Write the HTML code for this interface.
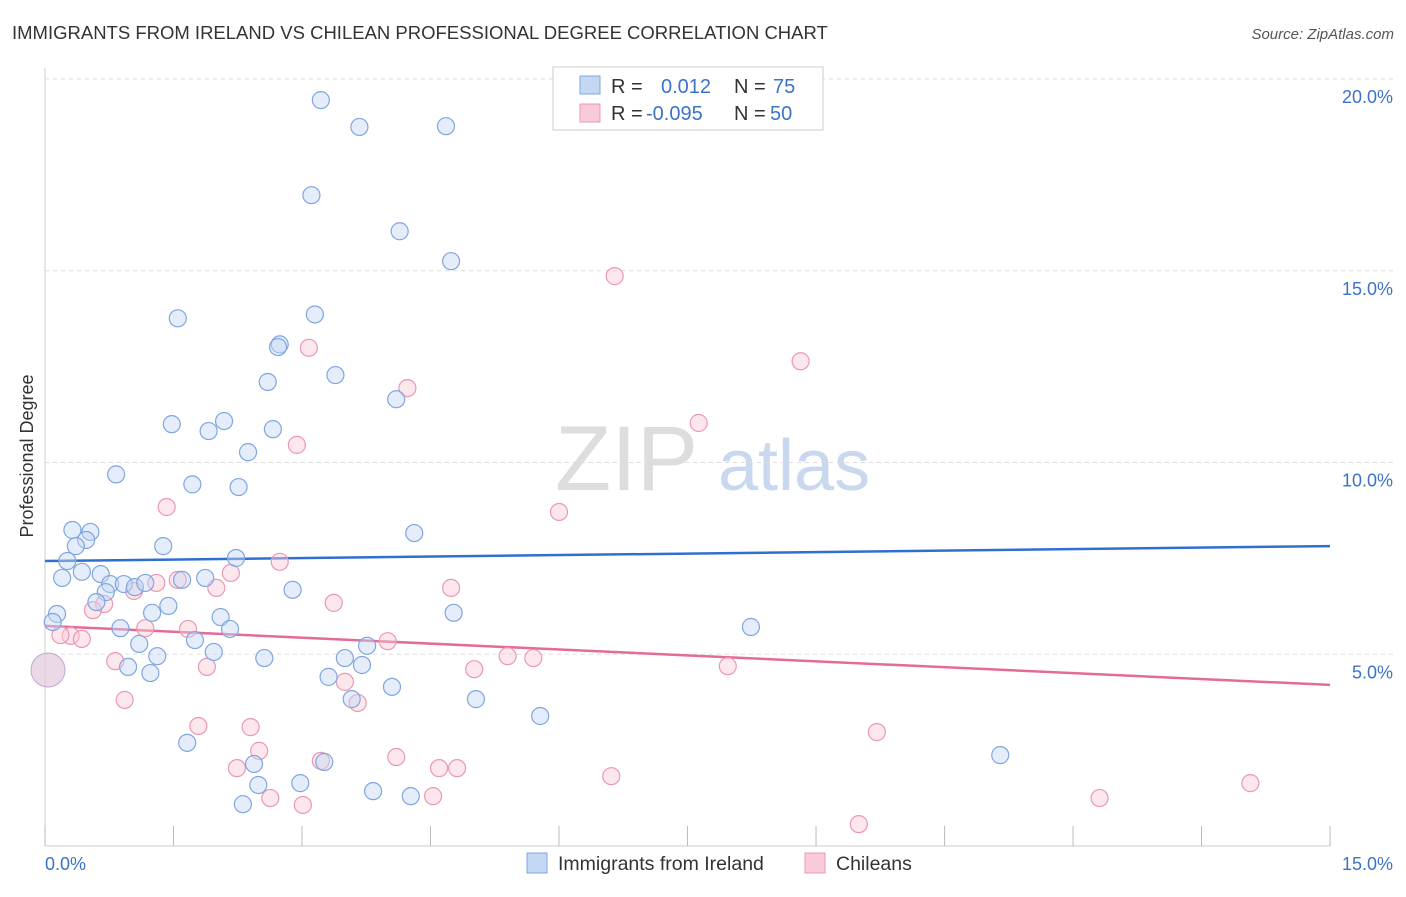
<!DOCTYPE html>
<html><head><meta charset="utf-8"><style>
body{margin:0;background:#fff;font-family:"Liberation Sans",sans-serif;}
svg text{font-family:"Liberation Sans",sans-serif;}
</style></head><body>
<svg id="chart" width="1406" height="892" xmlns="http://www.w3.org/2000/svg">
<text x="12" y="39" font-size="18.5" fill="#333">IMMIGRANTS FROM IRELAND VS CHILEAN PROFESSIONAL DEGREE CORRELATION CHART</text>
<text x="1394" y="39" font-size="15" fill="#555" text-anchor="end" font-style="italic">Source: ZipAtlas.com</text>
<text x="33" y="456" font-size="18" fill="#333" text-anchor="middle" transform="rotate(-90 33 456)">Professional Degree</text>
<g><text x="555" y="490" font-size="92" fill="#ddd" font-family="Liberation Serif,serif">ZIP</text><text x="718" y="490" font-size="72" fill="#c9d8ee">atlas</text></g>
<g id="grid"></g><g id="ticks"></g><g id="lines"></g><g id="pts"></g>
<g>
<rect x="553" y="67" width="270" height="63" fill="#fff" stroke="#ccc"/>
<rect x="580" y="76" width="20" height="18" fill="#c5d8f3" stroke="#7fa6e0"/>
<rect x="580" y="104" width="20" height="18" fill="#f9cad8" stroke="#eb98b3"/>
<text x="611" y="93" font-size="20" fill="#333">R = <tspan fill="#3b73c8" x="661">0.012</tspan><tspan x="734" fill="#333">N = </tspan><tspan fill="#3b73c8" x="773">75</tspan></text>
<text x="611" y="120" font-size="20" fill="#333">R = <tspan fill="#3b73c8" x="646">-0.095</tspan><tspan x="734" fill="#333">N = </tspan><tspan fill="#3b73c8" x="770">50</tspan></text>
</g>
<g>
<rect x="527" y="853" width="20" height="20" fill="#c5d8f3" stroke="#7fa6e0"/>
<text x="558" y="870" font-size="19.5" fill="#333">Immigrants from Ireland</text>
<rect x="805" y="853" width="20" height="20" fill="#f9cad8" stroke="#eb98b3"/>
<text x="836" y="870" font-size="19.5" fill="#333">Chileans</text>
</g>
</svg>
<script>
const yTicks=[5,10,15,20];
const xTickLabels=["0.0%","15.0%"];
const blueX=[3.22,3.67,4.68,3.11,4.14,4.74,1.55,3.15,2.74,2.72,3.39,2.60,4.10,1.48,2.09,1.91,2.66,2.37,0.83,1.72,2.26,0.32,0.53,0.48,0.36,1.38,4.31,0.26,2.23,0.43,0.20,0.65,1.60,1.87,0.76,0.92,1.05,1.17,2.89,0.71,0.60,1.44,0.14,1.25,2.05,0.09,0.88,2.16,4.77,8.24,1.75,1.10,3.76,1.97,1.31,2.56,3.50,3.70,0.97,1.23,3.31,4.05,3.58,5.03,5.78,1.66,11.15,2.44,3.26,2.49,2.98,3.83,4.27,2.31];
const blueY=[19.45,18.75,18.77,16.97,16.03,15.25,13.76,13.86,13.08,13.01,12.28,12.10,11.65,11.0,11.08,10.82,10.87,10.27,9.69,9.43,9.36,8.24,8.19,7.98,7.82,7.82,8.16,7.43,7.51,7.15,6.99,7.09,6.94,6.99,6.83,6.83,6.75,6.86,6.68,6.62,6.36,6.26,6.05,6.08,5.97,5.84,5.68,5.66,6.08,5.71,5.37,5.27,5.22,5.06,4.95,4.90,4.90,4.72,4.67,4.51,4.41,4.15,3.83,3.83,3.39,2.69,2.37,2.14,2.19,1.59,1.64,1.43,1.30,1.09];
const pinkX=[6.65,3.08,8.82,4.23,7.63,2.94,6.0,1.42,2.74,2.17,1.30,1.55,2.00,1.04,0.69,0.56,3.37,4.74,1.17,1.67,0.30,0.43,0.18,4.00,5.40,5.70,0.82,1.89,5.01,7.97,3.50,0.93,3.65,1.79,2.40,9.71,2.50,4.10,3.22,2.24,4.81,4.60,6.61,2.63,4.53,3.01,14.07,12.31,9.50];
const pinkY=[14.86,12.99,12.64,11.94,11.03,10.46,8.71,8.84,7.41,7.12,6.86,6.94,6.73,6.65,6.31,6.15,6.34,6.73,5.68,5.66,5.48,5.40,5.50,5.34,4.95,4.90,4.82,4.67,4.61,4.69,4.28,3.81,3.73,3.13,3.10,2.97,2.48,2.32,2.22,2.03,2.03,2.03,1.82,1.25,1.30,1.07,1.64,1.25,0.57];
const blueTrend=[7.43,7.82];
const pinkTrend=[5.74,4.20];
const X=v=>45+v*85.67, Y=v=>846-v*38.35;
const NS='http://www.w3.org/2000/svg';
function mk(p,t,a){const e=document.createElementNS(NS,t);for(const k in a)e.setAttribute(k,a[k]);document.getElementById(p).appendChild(e);return e;}
let e=mk('grid','line',{x1:45,x2:45,y1:68,y2:846,stroke:'#ccc'});


e=mk('grid','line',{x1:45,x2:1330,y1:846,y2:846,stroke:'#ccc'});


yTicks.forEach(v=>{
 let g=mk('grid','line',{x1:45,x2:1393,y1:Y(v),y2:Y(v),stroke:'#ddd','stroke-dasharray':'4,4'});
 
 
 let t=mk('ticks','text',{x:1393,y:Y(v)+24,'font-size':18,fill:'#3b73c8','text-anchor':'end'});
 t.textContent=v.toFixed(1)+'%';
 
 
});
for(let i=0;i<=10;i++){
 let t=mk('ticks','line',{x1:X(i*1.5),x2:X(i*1.5),y1:826,y2:846,stroke:'#bbb'});
 
 
}
let t0=mk('ticks','text',{x:45,y:870,'font-size':18,fill:'#3b73c8'});t0.textContent=xTickLabels[0];


let t1=mk('ticks','text',{x:1393,y:870,'font-size':18,fill:'#3b73c8','text-anchor':'end'});t1.textContent=xTickLabels[1];


function pts(xs,ys,fill,stroke,name){xs.forEach((x,i)=>{
 let c=mk('pts','circle',{cx:X(x),cy:Y(ys[i]),r:8.5,fill:fill,'fill-opacity':0.45,stroke:stroke,'stroke-width':1.2});
 
 
});}
pts(pinkX,pinkY,'#f9cad8','#eb98b3','point-chileans');
pts(blueX,blueY,'#c5d8f3','#7fa6e0','point-ireland');
let b=mk('pts','circle',{cx:48,cy:670,r:17,fill:'#e4c9dc','fill-opacity':0.7,stroke:'#c0a6d2'});


let l1=mk('lines','line',{x1:X(0),x2:X(15),y1:Y(blueTrend[0]),y2:Y(blueTrend[1]),stroke:'#2f6fd1','stroke-width':2.5});


let l2=mk('lines','line',{x1:X(0),x2:X(15),y1:Y(pinkTrend[0]),y2:Y(pinkTrend[1]),stroke:'#e46b97','stroke-width':2.5});


</script>
</body></html>
